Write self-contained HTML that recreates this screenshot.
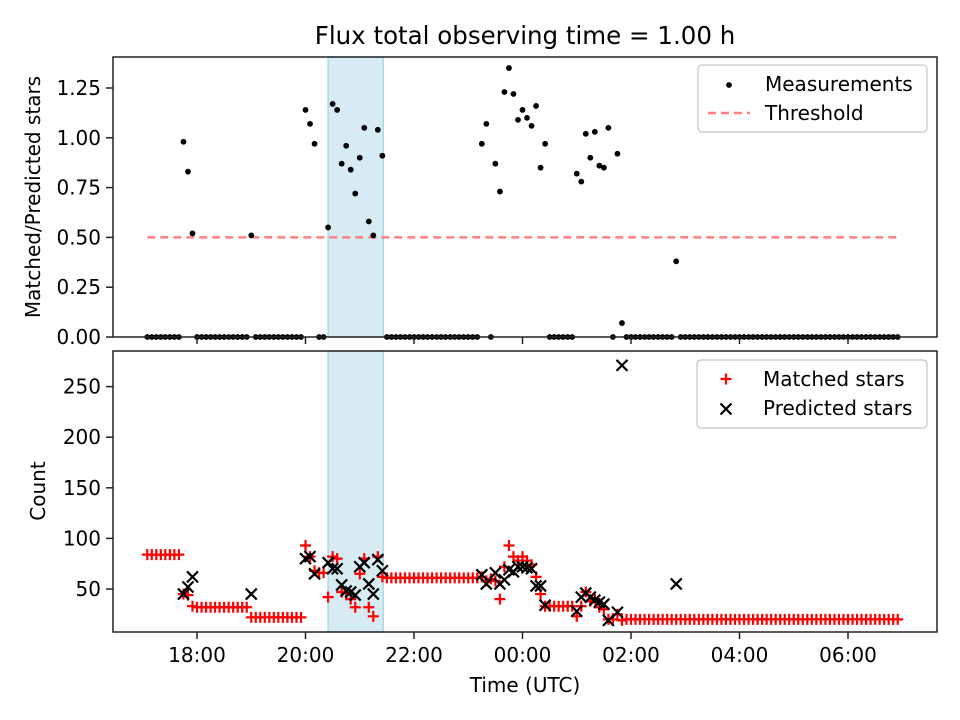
<!DOCTYPE html>
<html><head><meta charset="utf-8"><style>
body{margin:0;background:#fff;}
svg{display:block;font-family:"DejaVu Sans","Liberation Sans",sans-serif;}
</style></head><body>
<svg id="chart" width="960" height="720" viewBox="0 0 960 720" xmlns="http://www.w3.org/2000/svg"></svg>
<script>
// sample index i -> time 17:05 + 5 min * i
const startHour = 17 + 5/60;
const stepHour = 5/60;
const ratio = [
0,0,0,0,0,0,0,0,
0.98,0.83,0.52,
0,0,0,0,0,0,0,0,0,0,0,0,
0.51,
0,0,0,0,0,0,0,0,0,0,0,
1.14,1.07,0.97,
0,0,
0.55,1.17,1.14,0.87,0.96,0.84,0.72,0.90,1.05,0.58,0.51,1.04,0.91,
0,0,0,0,0,0,0,0,0,0,0,0,0,0,0,0,0,0,0,0,0,
0.97,1.07,
0,
0.87,0.73,1.23,1.35,1.22,1.09,1.14,1.10,1.06,1.16,0.85,0.97,
0,0,0,0,0,0,
0.82,0.78,1.02,0.90,1.03,0.86,0.85,1.05,0,0.92,
0.07,
0,0,0,0,0,0,0,0,0,0,0,
0.38,
0,0,0,0,0,0,0,0,0,0,0,0,0,0,0,0,0,0,0,0,0,0,0,0,0,0,0,0,0,0,0,0,0,0,0,0,0,0,0,0,0,0,0,0,0,0,0,0,0
];
const matched = [
84,84,84,84,84,84,84,84,
45,44,33,
32,32,32,32,32,32,32,32,32,32,32,32,
22,
22,22,22,22,22,22,22,22,22,22,22,
93,82,68,
66,66,
42,82,80,47,46,40,32,65,80,32,23,82,62,
61,61,61,61,61,61,61,61,61,61,61,61,61,61,61,61,61,61,61,61,61,
62,58,
60,
58,40,72,93,82,78,82,78,74,62,45,33,
33,33,33,33,33,33,
23,33,47,38,40,32,30,20,20,25,
19,
20,20,20,20,20,20,20,20,20,20,20,
20,
20,20,20,20,20,20,20,20,20,20,20,20,20,20,20,20,20,20,20,20,20,20,20,20,20,20,20,20,20,20,20,20,20,20,20,20,20,20,20,20,20,20,20,20,20,20,20,20,20
];
const predicted = [
null,null,null,null,null,null,null,null,
45,52,62,
null,null,null,null,null,null,null,null,null,null,null,null,
45,
null,null,null,null,null,null,null,null,null,null,null,
80,82,65,
null,null,
76,70,70,54,48,47,44,72,76,55,45,79,68,
null,null,null,null,null,null,null,null,null,null,null,null,null,null,null,null,null,null,null,null,null,
64,55,
null,
66,55,59,69,67,72,72,71,70,53,53,34,
null,null,null,null,null,null,
28,42,46,42,39,37,35,19,null,27,
271,
null,null,null,null,null,null,null,null,null,null,null,
55
];
const threshold = 0.5;
const bandStart = 20 + 25/60, bandEnd = 21 + 26/60;
const xTickHours = [18,20,22,24,26,28,30];
const xTickLabels = ["18:00","20:00","22:00","00:00","02:00","04:00","06:00"];
const topTicks = [0,0.25,0.5,0.75,1.0,1.25];
const topTickLabels = ["0.00","0.25","0.50","0.75","1.00","1.25"];
const botTicks = [50,100,150,200,250];
const botTickLabels = ["50","100","150","200","250"];

const NS="http://www.w3.org/2000/svg";
const svg=document.getElementById('chart');
function mk(tag,attrs,parent){const e=document.createElementNS(NS,tag);for(const k in attrs)e.setAttribute(k,attrs[k]);(parent||svg).appendChild(e);return e;}
const L=113,R=937,T1=57,B1=337,T2=351,B2=632;
const FS=20;
const xS=h=>197+(h-18)*54.25;
const yTop=v=>337-v*199.2;
const yBot=c=>639.6-c*1.012;
const tH=i=>startHour+i*stepHour;

const p1=mk('g',{});

const p2=mk('g',{});


[[p1,T1,B1],[p2,T2,B2]].forEach(([g,t,b])=>{
  const band=mk('rect',{x:xS(bandStart),y:t,width:xS(bandEnd)-xS(bandStart),height:b-t,fill:'#add8e6','fill-opacity':0.5,stroke:'#add8e6','stroke-width':1.5},g);
  
  
});

const th=mk('line',{x1:xS(tH(0)),x2:xS(tH(ratio.length-1)),y1:yTop(threshold),y2:yTop(threshold),stroke:'#ff8080','stroke-width':2.5,'stroke-dasharray':'8,5'},p1);



ratio.forEach((v,i)=>{
  const c=mk('circle',{cx:xS(tH(i)),cy:yTop(v),r:2.9,fill:'#000'},p1);
  
  
});
matched.forEach((v,i)=>{
  if(v==null)return;
  const x=xS(tH(i)),y=yBot(v),s=5.5;
  const p=mk('path',{d:`M${x-s},${y}H${x+s}M${x},${y-s}V${y+s}`,stroke:'#ff0000','stroke-width':2.2,fill:'none'},p2);
  
  
});
predicted.forEach((v,i)=>{
  if(v==null)return;
  const x=xS(tH(i)),y=yBot(v),s=5.5;
  const p=mk('path',{d:`M${x-s},${y-s}L${x+s},${y+s}M${x-s},${y+s}L${x+s},${y-s}`,stroke:'#000','stroke-width':2.2,fill:'none'},p2);
  
  
});

[[p1,T1,B1],[p2,T2,B2]].forEach(([g,t,b])=>{
  const f=mk('rect',{x:L,y:t,width:R-L,height:b-t,fill:'none',stroke:'#222','stroke-width':1.5},g);
  
  
  xTickHours.forEach(h=>{
    const tk=mk('line',{x1:xS(h),x2:xS(h),y1:b,y2:b+7,stroke:'#222','stroke-width':1.5},g);
    
    
  });
});
xTickHours.forEach((h,k)=>{
  const tx=mk('text',{x:xS(h),y:662,'font-size':FS,'text-anchor':'middle'},p2);
  tx.textContent=xTickLabels[k];
  
  
});
topTicks.forEach((v,k)=>{
  mk('line',{x1:L-7,x2:L,y1:yTop(v),y2:yTop(v),stroke:'#222','stroke-width':1.5},p1);
  const tx=mk('text',{x:L-12,y:yTop(v)+7,'font-size':FS,'text-anchor':'end'},p1);
  tx.textContent=topTickLabels[k];
  
  
});
botTicks.forEach((v,k)=>{
  mk('line',{x1:L-7,x2:L,y1:yBot(v),y2:yBot(v),stroke:'#222','stroke-width':1.5},p2);
  const tx=mk('text',{x:L-12,y:yBot(v)+7,'font-size':FS,'text-anchor':'end'},p2);
  tx.textContent=botTickLabels[k];
  
  
});
</script>
<script>
(function(){
const NS="http://www.w3.org/2000/svg",svg=document.getElementById('chart');
function mk(tag,attrs,txt){const e=document.createElementNS(NS,tag);for(const k in attrs)e.setAttribute(k,attrs[k]);if(txt)e.textContent=txt;svg.appendChild(e);return e;}
let e;
e=mk('text',{x:525,y:44,'font-size':24.5,'text-anchor':'middle'},'Flux total observing time = 1.00 h');

e=mk('text',{x:525,y:692,'font-size':20,'text-anchor':'middle'},'Time (UTC)');

e=mk('text',{x:40,y:197,'font-size':20,'text-anchor':'middle',transform:'rotate(-90 40 197)'},'Matched/Predicted stars');

e=mk('text',{x:45,y:491,'font-size':20,'text-anchor':'middle',transform:'rotate(-90 45 491)'},'Count');

e=mk('rect',{x:698,y:65,width:229,height:67,rx:4,fill:'#fff','fill-opacity':0.8,stroke:'#d0d0d0','stroke-width':1.5});

mk('circle',{cx:729,cy:85,r:2.9,fill:'#000'});
e=mk('text',{x:765,y:91,'font-size':20},'Measurements');

mk('line',{x1:708,x2:750,y1:113,y2:113,stroke:'#ff8080','stroke-width':2.5,'stroke-dasharray':'8,5'});
e=mk('text',{x:765,y:120,'font-size':20},'Threshold');

e=mk('rect',{x:697,y:360,width:230,height:68,rx:4,fill:'#fff','fill-opacity':0.8,stroke:'#d0d0d0','stroke-width':1.5});

mk('path',{d:'M720.5,379H731.5M726,373.5V384.5',stroke:'#f00','stroke-width':2.2});
e=mk('text',{x:763,y:386,'font-size':20},'Matched stars');

mk('path',{d:'M720.5,403.5L731.5,414.5M720.5,414.5L731.5,403.5',stroke:'#000','stroke-width':2.2});
e=mk('text',{x:763,y:415,'font-size':20},'Predicted stars');

})();
</script>
</body></html>
